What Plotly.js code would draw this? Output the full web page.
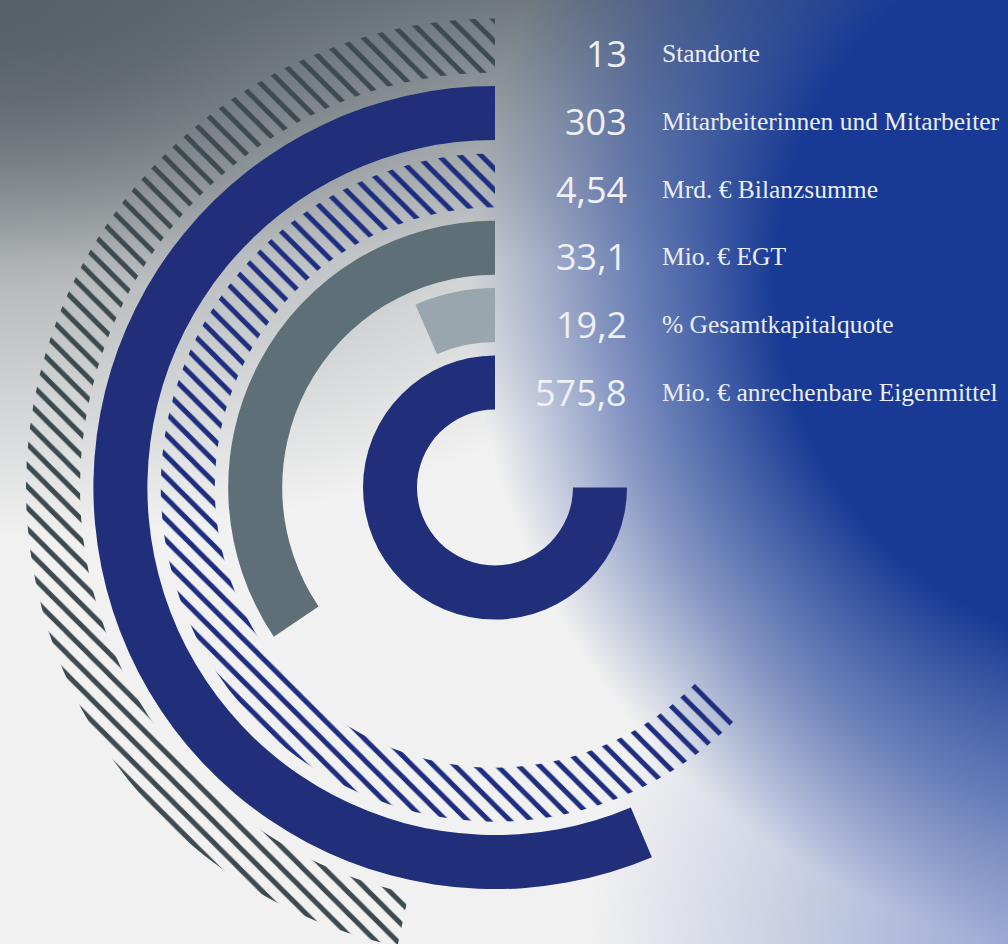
<!DOCTYPE html>
<html>
<head>
<meta charset="utf-8">
<script src="https://cdn.plot.ly/plotly-3.0.1.min.js"></script>
<style>
  html, body { margin: 0; padding: 0; overflow: hidden; width: 1008px; height: 944px; }
  #bg { position: absolute; left: 0; top: 0; width: 1008px; height: 944px;
    background:
      radial-gradient(circle 680px at 1150px 280px, rgba(24,58,148,1) 0%, rgba(24,58,148,1) 55%, rgba(24,58,148,0.5) 80%, rgba(24,58,148,0) 100%),
      radial-gradient(ellipse 420px 420px at 1008px 944px, rgba(120,140,200,0.7) 0%, rgba(120,140,200,0) 100%),
      linear-gradient(180deg, rgba(84,96,104,0.75) 0px, rgba(84,96,104,0.35) 120px, rgba(84,96,104,0) 260px),
      radial-gradient(ellipse 880px 540px at 0px 0px, rgba(86,95,99,1) 0%, rgba(88,97,101,0.85) 20%, rgba(120,128,132,0.45) 55%, rgba(160,165,168,0) 100%),
      linear-gradient(#f1f1f1, #f1f1f1);
  }
  #chart { position: absolute; left: 0; top: 0; width: 1008px; height: 980px; }
</style>
</head>
<body>
<div id="bg"></div>
<div id="chart"></div>
<script>
// ---- data ----
var valueLabels = ["13", "303", "4,54", "33,1", "19,2", "575,8"];
var descriptions = ["Standorte", "Mitarbeiterinnen und Mitarbeiter", "Mrd. € Bilanzsumme",
                    "Mio. € EGT", "% Gesamtkapitalquote", "Mio. € anrechenbare Eigenmittel"];
// sweep of each ring in degrees, counter-clockwise from 12 o'clock (outer ring first)
var sweepDeg = [168, 203, 226, 124, 23.5, 270];
var ringColors = ["#3d4b50", "#212f7a", "#1f2f80", "#5f6f77", "#99a6ad", "#212f7a"];
var hatched = [true, false, true, false, false, false];

// ---- layout geometry (pixels) ----
var W = 1008, H = 980;
var cx = 495, cy = 487.5;     // centre of the rings
var R = 470;                  // radial axis range = pixels
var outerMost = 469, step = 67.4, thick = 54;

var traces = sweepDeg.map(function (sw, i) {
  var outer = outerMost - i * step;
  var m = { color: ringColors[i], line: { width: 0 } };
  if (hatched[i]) {
    m.pattern = { shape: "\\", size: 15, solidity: 0.33, fgcolor: ringColors[i], bgcolor: "rgba(0,0,0,0)", fillmode: "replace" };
  }
  return {
    type: "barpolar",
    r: [thick],
    base: [outer - thick],
    theta: [sw / 2],
    width: [sw],
    marker: m,
    hoverinfo: "skip",
    name: descriptions[i],
    showlegend: false
  };
});

var rowY0 = 55, rowStep = 67.6;
var annotations = [];
valueLabels.forEach(function (v, i) {
  var py = rowY0 + i * rowStep;
  annotations.push({
    xref: "paper", yref: "paper", x: 629 / W, y: 1 - (py - 1) / H,
    xanchor: "right", yanchor: "middle", showarrow: false, text: v,
    font: { family: "Open Sans, Noto Sans, sans-serif", size: 36, weight: 400, color: "#eef0f5" }
  });
  annotations.push({
    xref: "paper", yref: "paper", x: 660 / W, y: 1 - (py - 1) / H,
    xanchor: "left", yanchor: "middle", showarrow: false, text: descriptions[i],
    font: { family: "Liberation Serif, serif", size: 25.5, color: "#e9edf5" }
  });
});

var layout = {
  width: W, height: H,
  margin: { l: 0, r: 0, t: 0, b: 0, pad: 0 },
  paper_bgcolor: "rgba(0,0,0,0)",
  plot_bgcolor: "rgba(0,0,0,0)",
  showlegend: false,
  polar: {
    domain: { x: [(cx - R) / W, (cx + R) / W], y: [(H - cy - R) / H, (H - cy + R) / H] },
    bgcolor: "rgba(0,0,0,0)",
    hole: 0,
    radialaxis: { range: [0, R], visible: false, showgrid: false, showline: false, showticklabels: false, ticks: "" },
    angularaxis: { visible: false, rotation: 90, direction: "counterclockwise", showgrid: false, showline: false, showticklabels: false, ticks: "" }
  },
  annotations: annotations
};

Plotly.newPlot("chart", traces, layout, { displayModeBar: false, staticPlot: true });
</script>
</body>
</html>
